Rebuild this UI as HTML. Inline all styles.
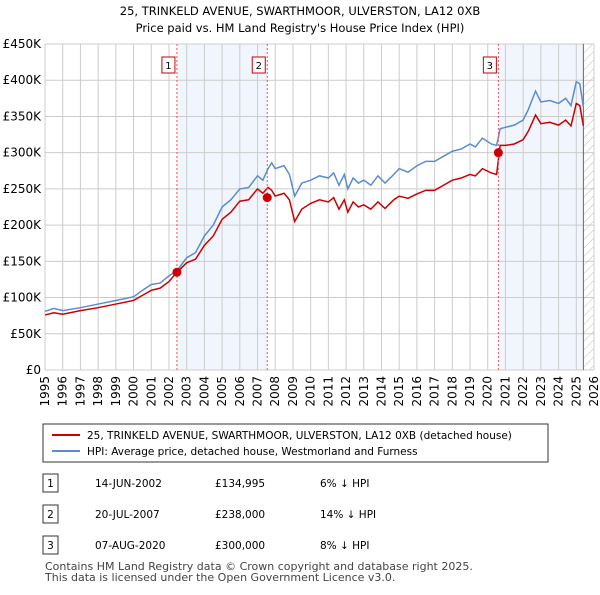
<!DOCTYPE html>
<html><head><meta charset="utf-8"><style>
body{margin:0;background:#fff;font-family:"Liberation Sans","DejaVu Sans",sans-serif;}
svg text{font-family:"DejaVu Sans","Liberation Sans",sans-serif;}
</style></head><body>
<svg id="c" width="600" height="590" xmlns="http://www.w3.org/2000/svg">
<defs><pattern id="hatch" width="6" height="6" patternUnits="userSpaceOnUse" patternTransform="rotate(45)"><line x1="0" y1="0" x2="0" y2="6" stroke="#bbb" stroke-width="1"/></pattern></defs>
<text x="300" y="15" text-anchor="middle" font-size="11.5">25, TRINKELD AVENUE, SWARTHMOOR, ULVERSTON, LA12 0XB</text>
<text x="300" y="32" text-anchor="middle" font-size="11.5">Price paid vs. HM Land Registry's House Price Index (HPI)</text>
<g id="grid"></g><g id="marks"></g>
<g>
<rect x="43" y="424" width="505" height="38" fill="#fff" stroke="#333"/>
<line x1="52" y1="435" x2="80" y2="435" stroke="#cc0000" stroke-width="2"/>
<text x="87" y="439" font-size="10.5">25, TRINKELD AVENUE, SWARTHMOOR, ULVERSTON, LA12 0XB (detached house)</text>
<line x1="52" y1="451" x2="80" y2="451" stroke="#5b8ccc" stroke-width="2"/>
<text x="87" y="455" font-size="10.5">HPI: Average price, detached house, Westmorland and Furness</text>
</g>
<g id="table" font-size="10.5"></g>
<text x="45" y="570" font-size="11" fill="#444">Contains HM Land Registry data © Crown copyright and database right 2025.</text>
<text x="45" y="581" font-size="11" fill="#444">This data is licensed under the Open Government Licence v3.0.</text>
</svg>
<script>
const hpiDates=[1995,1995.5,1996,1997,1998,1999,2000,2000.5,2001,2001.5,2002,2002.45,2003,2003.5,2004,2004.5,2005,2005.5,2006,2006.5,2007,2007.3,2007.6,2007.8,2008,2008.5,2008.8,2009.1,2009.5,2010,2010.5,2011,2011.3,2011.6,2011.9,2012.1,2012.4,2012.7,2013,2013.4,2013.8,2014.2,2014.7,2015,2015.5,2016,2016.5,2017,2017.5,2018,2018.5,2019,2019.3,2019.7,2020.2,2020.5,2020.7,2021,2021.5,2022,2022.3,2022.7,2023,2023.5,2024,2024.4,2024.7,2025,2025.2,2025.4];
const hpiValues=[81,85,82,86,91,96,101,110,118,120,130,137,155,162,185,200,225,235,250,252,268,262,278,286,278,282,270,240,258,262,268,265,272,255,270,250,265,258,262,255,268,258,270,278,273,282,288,288,295,302,305,312,308,320,312,310,333,335,338,345,360,385,370,372,368,375,365,398,395,363];
const priceDates=hpiDates;
const priceValues=[76,79,77,82,86,91,96,103,110,113,122,135,148,153,172,185,208,218,233,235,250,244,252,248,240,244,235,205,222,230,235,232,238,222,235,218,232,225,228,222,232,223,235,240,237,243,248,248,255,262,265,270,268,278,272,270,310,310,312,318,330,352,340,342,338,345,337,368,365,337];
const sales=[[2002.45,134995],[2007.55,238000],[2020.6,300000]];
const yTicks=[0,50,100,150,200,250,300,350,400,450];
const years=[];for(let y=1995;y<=2026;y++)years.push(y);
const rows=[["1","14-JUN-2002","£134,995","6% ↓ HPI"],["2","20-JUL-2007","£238,000","14% ↓ HPI"],["3","07-AUG-2020","£300,000","8% ↓ HPI"]];
const NS="http://www.w3.org/2000/svg";
const X0=45,X1=594,Y0=370,Y1=44;
const xs=t=>X0+(t-1995)/31*(X1-X0);
const ys=v=>Y0-v/450*(Y0-Y1);
function mk(p,tag,a){const e=document.createElementNS(NS,tag);for(const k in a)e.setAttribute(k,a[k]);p.appendChild(e);return e;}
const G=document.getElementById('grid'),M=document.getElementById('marks'),T=document.getElementById('table');
let r=mk(G,'rect',{x:xs(2002.45),y:Y1,width:xs(2007.55)-xs(2002.45),height:Y0-Y1,fill:'#eef3fc',opacity:0.8});

r=mk(G,'rect',{x:xs(2020.6),y:Y1,width:xs(2025.4)-xs(2020.6),height:Y0-Y1,fill:'#eef3fc',opacity:0.8});

r=mk(G,'rect',{x:xs(2025.4),y:Y1,width:X1-xs(2025.4),height:Y0-Y1,fill:'url(#hatch)'});

yTicks.forEach(v=>{mk(G,'line',{x1:X0,x2:X1,y1:ys(v),y2:ys(v),stroke:'#ccc'});
const t=mk(G,'text',{x:X0-4,y:ys(v)+4,'text-anchor':'end','font-size':12});t.textContent=v?'£'+v+'K':'£0';
});
years.forEach(y=>{mk(G,'line',{x1:xs(y),x2:xs(y),y1:Y1,y2:Y0,stroke:'#ccc'});
const t=mk(G,'text',{x:0,y:0,'text-anchor':'end','font-size':12,transform:`translate(${xs(y)+4},${Y0+6}) rotate(-90)`});t.textContent=y;
});
mk(G,'line',{x1:xs(2025.4),x2:xs(2025.4),y1:Y1,y2:Y0,stroke:'#666'});
function line(d,v,c,n){const p=mk(M,'polyline',{points:d.map((t,i)=>xs(t)+','+ys(v[i])).join(' '),fill:'none',stroke:c,'stroke-width':1.5});
}
line(hpiDates,hpiValues,'#5b8ccc','hpi-line');
line(priceDates,priceValues,'#cc0000','price-line');
sales.forEach((s,i)=>{const x=xs(s[0]);
mk(M,'line',{x1:x,x2:x,y1:Y1,y2:Y0,stroke:'#e55','stroke-dasharray':'2,2'});
const b=mk(M,'rect',{x:x-15,y:57,width:13,height:16,fill:'#fff',stroke:'#cc0000'});

const t=mk(M,'text',{x:x-8.5,y:69,'text-anchor':'middle','font-size':10});t.textContent=i+1;
const c=mk(M,'circle',{cx:x,cy:ys(s[1]/1000),r:4.5,fill:'#cc0000'});
});
rows.forEach((rw,i)=>{const y=484+i*31;
const b=mk(T,'rect',{x:43,y:y-10,width:15,height:18,fill:'#fff',stroke:'#333'});

let t=mk(T,'text',{x:50.5,y:y+3,'text-anchor':'middle'});t.textContent=rw[0];
t=mk(T,'text',{x:95,y:y+3});t.textContent=rw[1];
t=mk(T,'text',{x:215,y:y+3});t.textContent=rw[2];
t=mk(T,'text',{x:320,y:y+3});t.textContent=rw[3];});
</script>
</body></html>
